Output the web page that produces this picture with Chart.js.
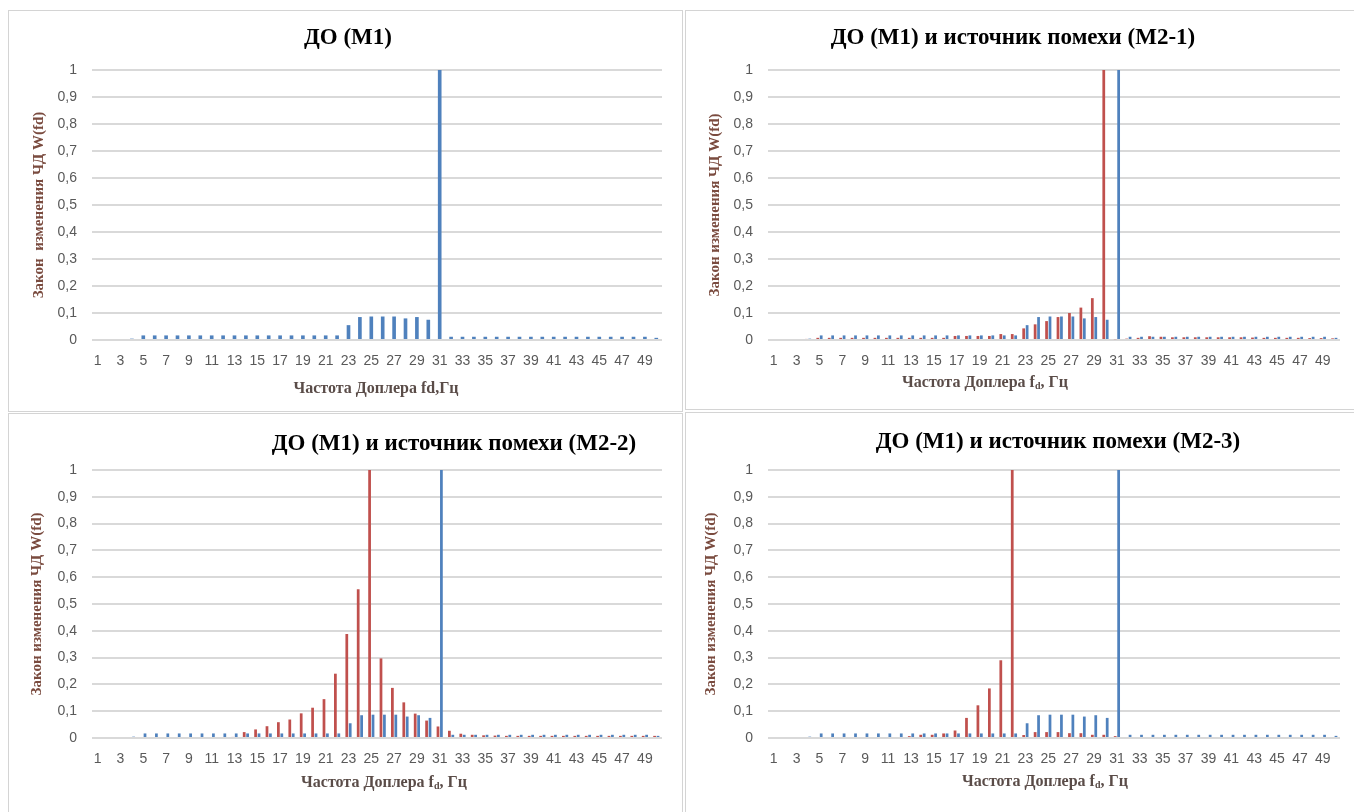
<!DOCTYPE html>
<html lang="ru">
<head>
<meta charset="utf-8">
<title>Закон изменения ЧД</title>
<script src="https://cdn.jsdelivr.net/npm/chart.js@4.4.1/dist/chart.umd.min.js"></script>
<style>
    body { margin: 0; width: 1354px; height: 812px; background: #fff; position: relative; overflow: hidden; }
    .box { position: absolute; border: 1px solid #d4d4d4; box-sizing: border-box; }
    canvas { position: absolute; }
    .title { position: absolute; font: bold 23px "Liberation Serif", "DejaVu Serif", serif; color: #000; white-space: nowrap; transform: translate(-50%, -50%); }
    .xtitle { position: absolute; font: bold 16px "Liberation Serif", "DejaVu Serif", serif; color: #5a4c48; white-space: nowrap; transform: translate(-50%, -50%); }
    .xtitle sub { font-size: 10px; vertical-align: -2px; }
</style>
</head>
<body>
<div class="box" style="left:8px;top:10px;width:675px;height:402px"></div>
<div class="box" style="left:685px;top:10px;width:680px;height:400px"></div>
<div class="box" style="left:8px;top:413px;width:675px;height:410px"></div>
<div class="box" style="left:685px;top:412px;width:680px;height:410px"></div>

<canvas id="c1" width="673" height="400" style="left:9px;top:11px"></canvas>
<canvas id="c2" width="668" height="399" style="left:686px;top:11px"></canvas>
<canvas id="c3" width="673" height="398" style="left:9px;top:414px"></canvas>
<canvas id="c4" width="668" height="399" style="left:686px;top:413px"></canvas>

<div class="title" style="left:348px;top:37px">ДО (М1)</div>
<div class="title" style="left:1013px;top:37px">ДО (М1) и источник помехи (М2-1)</div>
<div class="title" style="left:454px;top:443px">ДО (М1) и источник помехи (М2-2)</div>
<div class="title" style="left:1058px;top:441px">ДО (М1) и источник помехи (М2-3)</div>

<div class="xtitle" style="left:376px;top:388px">Частота Доплера fd,Гц</div>
<div class="xtitle" style="left:985px;top:382px">Частота Доплера f<sub>d</sub>, Гц</div>
<div class="xtitle" style="left:384px;top:782px">Частота Доплера f<sub>d</sub>, Гц</div>
<div class="xtitle" style="left:1045px;top:781px">Частота Доплера f<sub>d</sub>, Гц</div>

<script>
// частота Доплера, Гц
const freq = [1, 2, 3, 4, 5, 6, 7, 8, 9, 10,
    11, 12, 13, 14, 15, 16, 17, 18, 19, 20,
    21, 22, 23, 24, 25, 26, 27, 28, 29, 30,
    31, 32, 33, 34, 35, 36, 37, 38, 39, 40,
    41, 42, 43, 44, 45, 46, 47, 48, 49, 50];

// ДО (М1) - синий
const wM1 = [0, 0, 0, 0.005, 0.017, 0.017, 0.017, 0.017, 0.017, 0.017,
    0.017, 0.017, 0.017, 0.017, 0.017, 0.017, 0.017, 0.017, 0.017, 0.017,
    0.017, 0.017, 0.055, 0.085, 0.087, 0.087, 0.087, 0.08, 0.085, 0.075,
    1, 0.012, 0.012, 0.012, 0.012, 0.012, 0.012, 0.012, 0.012, 0.012,
    0.012, 0.012, 0.012, 0.012, 0.012, 0.012, 0.012, 0.012, 0.012, 0.008];

// источник помехи - красный
const wM21 = [0, 0, 0, 0.004, 0.008, 0.008, 0.008, 0.008, 0.008, 0.008,
    0.008, 0.008, 0.008, 0.008, 0.008, 0.008, 0.015, 0.015, 0.015, 0.015,
    0.022, 0.022, 0.043, 0.058, 0.07, 0.085, 0.1, 0.12, 0.155, 1,
    0.003, 0.005, 0.008, 0.014, 0.012, 0.01, 0.01, 0.01, 0.01, 0.01,
    0.01, 0.01, 0.009, 0.008, 0.008, 0.008, 0.008, 0.007, 0.007, 0.006];

const wM22 = [0, 0, 0, 0, 0, 0, 0, 0, 0, 0,
    0, 0, 0.004, 0.022, 0.032, 0.044, 0.059, 0.069, 0.092, 0.113,
    0.145, 0.24, 0.388, 0.555, 1, 0.297, 0.187, 0.133, 0.091, 0.065,
    0.043, 0.027, 0.016, 0.012, 0.01, 0.009, 0.008, 0.008, 0.008, 0.008,
    0.008, 0.008, 0.008, 0.008, 0.008, 0.008, 0.008, 0.008, 0.008, 0.008];

const wM23 = [0, 0, 0, 0, 0, 0, 0, 0, 0, 0,
    0, 0, 0.007, 0.012, 0.012, 0.017, 0.028, 0.075, 0.122, 0.185,
    0.29, 1, 0.011, 0.022, 0.022, 0.022, 0.018, 0.018, 0.012, 0.012,
    0.007, 0, 0, 0, 0, 0, 0, 0, 0, 0,
    0, 0, 0, 0, 0, 0, 0, 0, 0, 0];

const BLUE = "#4F81BD";
const RED = "#C0504D";
const tickFont = { family: "'Liberation Sans Narrow', 'Liberation Sans', sans-serif", size: 14 };

function makeChart(id, series, g) {
    const datasets = series.map(s => ({
        data: s.data,
        backgroundColor: s.color,
        borderWidth: 0,
        categoryPercentage: series.length === 1 ? 1 : 0.6,
        barPercentage: series.length === 1 ? 0.32 : 0.8,
    }));
    new Chart(document.getElementById(id), {
        type: "bar",
        data: { labels: freq, datasets: datasets },
        options: {
            responsive: false,
            animation: false,
            layout: { padding: { top: g.top, right: g.right, left: 0, bottom: 0 } },
            plugins: { legend: { display: false }, tooltip: { enabled: false } },
            scales: {
                x: {
                    grid: { display: false, drawTicks: false },
                    border: { display: false },
                    ticks: {
                        autoSkip: false, maxRotation: 0, padding: 13,
                        color: "#595959", font: tickFont,
                        callback: (v, i) => (i % 2 === 0 ? String(freq[i]) : ""),
                    },
                    afterFit: s => { s.height = g.xh; },
                },
                y: {
                    min: 0, max: 1,
                    grid: { color: "#d9d9d9", lineWidth: 2, drawTicks: false },
                    border: { display: false },
                    ticks: {
                        stepSize: 0.1, padding: 15,
                        color: "#595959", font: tickFont,
                        callback: v => {
                            const r = Math.round(v * 10) / 10;
                            return r === 0 ? "0" : r === 1 ? "1" : r.toFixed(1).replace(".", ",");
                        },
                    },
                    title: {
                        display: true, text: g.ytitle, color: "#7a4b3f",
                        font: { family: "'Liberation Serif', serif", size: 15, weight: "bold" },
                        padding: { top: g.yt, bottom: 0 },
                    },
                    afterFit: s => { s.width = g.yw; },
                },
            },
        },
    });
}

makeChart("c1", [{ data: wM1, color: BLUE }],
    { top: 59, right: 20, xh: 71, yw: 83, yt: 21, ytitle: "Закон  изменения ЧД W(fd)" });
makeChart("c2", [{ data: wM21, color: RED }, { data: wM1, color: BLUE }],
    { top: 59, right: 14, xh: 70, yw: 82, yt: 20, ytitle: "Закон изменения ЧД W(fd)" });
makeChart("c3", [{ data: wM22, color: RED }, { data: wM1, color: BLUE }],
    { top: 56, right: 20, xh: 74, yw: 83, yt: 19, ytitle: "Закон изменения ЧД W(fd)" });
makeChart("c4", [{ data: wM23, color: RED }, { data: wM1, color: BLUE }],
    { top: 57, right: 14, xh: 74, yw: 82, yt: 16, ytitle: "Закон изменения ЧД W(fd)" });
</script>
</body>
</html>
